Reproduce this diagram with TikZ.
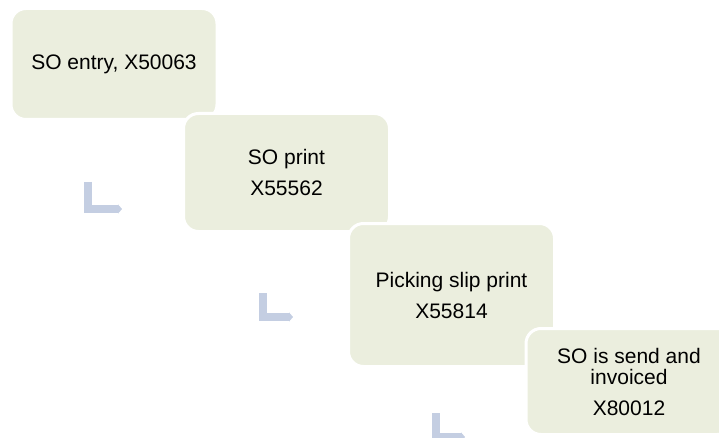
\documentclass[tikz,border=0pt]{standalone}
\usepackage{fontspec}
\setmainfont{Liberation Sans}
\usepackage{tikz}
\usetikzlibrary{arrows.meta,positioning}
\definecolor{boxfill}{HTML}{EBEEDE}
\definecolor{bendblue}{HTML}{C4CEE2}

\begin{document}
\begin{tikzpicture}[x=1pt,y=-1pt,
 stepbox/.style={draw=white,line width=3pt,fill=boxfill,rounded corners=15pt,
   minimum width=206pt,align=center,inner sep=0pt,
   font=\fontsize{21}{21}\selectfont},
 bentarrow/.style={draw=bendblue,line width=8pt,line cap=butt,line join=miter,
   -{Triangle[length=4pt,width=9pt]}}]
\path[use as bounding box,clip] (0,0) rectangle (719,438);
\node[stepbox,minimum height=111pt] (s1) at (114,64) {SO entry, X50063};
\node[stepbox,minimum height=118pt] (s2) at (286.5,172.5) {SO print\\[10pt]X55562};
\node[stepbox,minimum height=143pt] (s3) at (451.5,295) {Picking slip print\\[10pt]X55814};
\node[stepbox,minimum height=106pt] (s4) at (629,381.5) {SO is send and\\invoiced\\[10pt]X80012};

\coordinate (b1) at (88,182); \coordinate (e1) at (122,209);
\coordinate (b2) at (263,293); \coordinate (e2) at (293,317);
\coordinate (b3) at (436,413); \coordinate (e3) at (465,437);
\draw[bentarrow] (b1) |- (e1);
\draw[bentarrow] (b2) |- (e2);
\draw[bentarrow] (b3) |- (e3);
\end{tikzpicture}
\end{document}
